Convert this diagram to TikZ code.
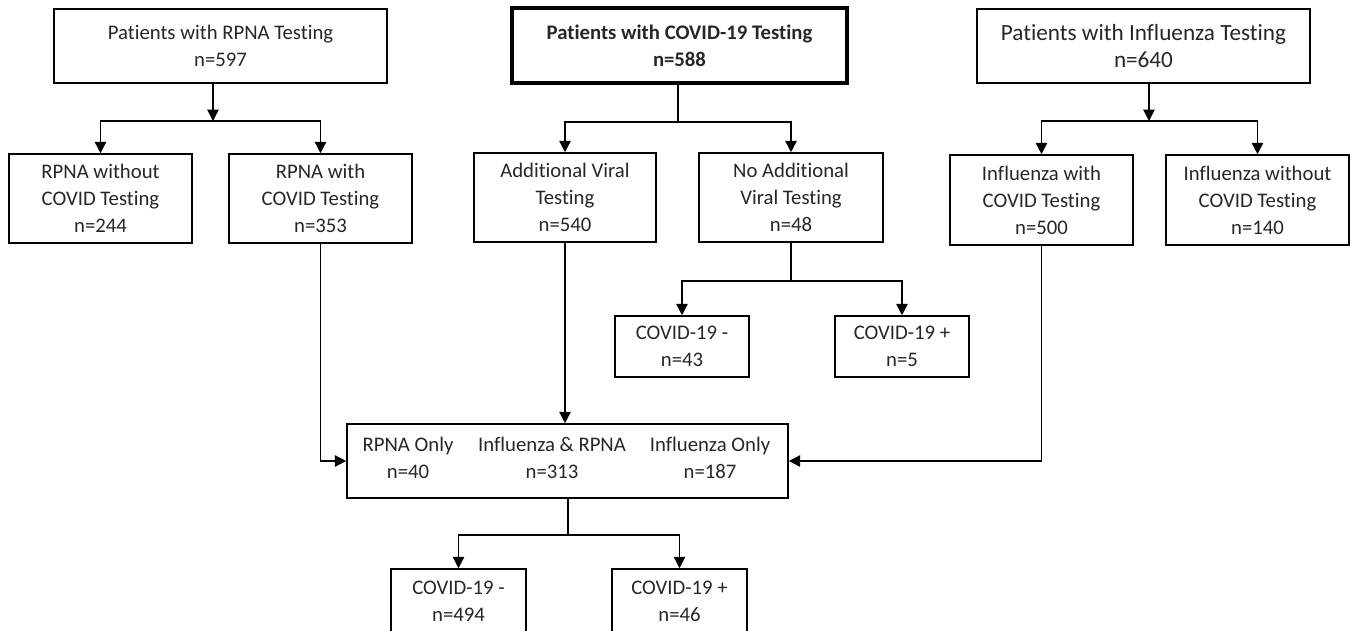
\documentclass[tikz,border=0pt]{standalone}
\usepackage{fontspec}
\setmainfont{Carlito}[Ligatures=NoCommon]
\usetikzlibrary{arrows.meta,calc}
\begin{document}
\begin{tikzpicture}[x=0.02cm,y=-0.02cm,
  box/.style={draw=black,line width=0.9pt,align=center,inner sep=0pt,
    font=\fontsize{11.8}{15.3}\selectfont,text=black!85},
  sz/.style 2 args={minimum width=#1*0.02cm,minimum height=#2*0.02cm},
  lbl/.style={align=center,inner sep=0pt,font=\fontsize{11.8}{15.3}\selectfont,text=black!85},
  conn/.style={line width=0.85pt},
  arr/.style={conn,-{Triangle[length=6.5pt,width=6.5pt]}},
  darr/.style={conn,{Triangle[length=6.5pt,width=6.5pt]}-{Triangle[length=6.5pt,width=6.5pt]}},
]
\useasboundingbox (0,0) rectangle (1350,630);
\clip (0,0) rectangle (1350,630);

% top row
\node[box,sz={333}{74}] (rpna) at (220.5,46) {Patients with RPNA Testing\\n=597};
\node[box,sz={335}{75},line width=1.9pt,font=\fontsize{11.8}{15.3}\selectfont\bfseries] (covid) at (679.5,45.5) {Patients with COVID-19 Testing\\n=588};
\node[box,sz={333}{74},font=\fontsize{13.2}{15.8}\selectfont] (flu) at (1143.5,46) {Patients with Influenza Testing\\n=640};

% second row
\node[box,sz={183}{89}] (rpnano) at (100.5,198.5) {RPNA without\\COVID Testing\\n=244};
\node[box,sz={183}{89}] (rpnayes) at (320.5,198.5) {RPNA with\\COVID Testing\\n=353};
\node[box,sz={182}{89}] (addv) at (565,197.5) {Additional Viral\\Testing\\n=540};
\node[box,sz={184}{89}] (noadd) at (791,197.5) {No Additional\\Viral Testing\\n=48};
\node[box,sz={183}{90}] (fluyes) at (1041.5,200) {Influenza with\\COVID Testing\\n=500};
\node[box,sz={183}{90}] (fluno) at (1257.5,200) {Influenza without\\COVID Testing\\n=140};

% third row
\node[box,sz={134}{61}] (neg1) at (682,346.5) {COVID-19 -\\n=43};
\node[box,sz={134}{61}] (pos1) at (902,346.5) {COVID-19 +\\n=5};

% combined box
\node[box,sz={441}{74}] (combo) at (567.5,461) {};
\node[lbl] (c1) at ($(combo.center)+(-159.5,-3.5)$) {RPNA Only\\n=40};
\node[lbl] (c2) at ($(combo.center)+(-15.5,-3.5)$) {Influenza \& RPNA\\n=313};
\node[lbl] (c3) at ($(combo.center)+(142.5,-3.5)$) {Influenza Only\\n=187};

% bottom row
\node[box,sz={135}{64}] (neg2) at (458.5,601) {COVID-19 -\\n=494};
\node[box,sz={135}{64}] (pos2) at (679.5,601) {COVID-19 +\\n=46};

% junctions
\coordinate (j1) at (213,121);
\coordinate (j2) at (678,122);
\coordinate (j3) at (1149,121);
\coordinate (j4) at (791,281);
\coordinate (j5) at (568,535);

% connectors
\draw[arr] (rpna.south -| j1) -- (j1);
\draw[darr] (rpnano.north) |- (j1) -| (rpnayes.north);
\draw[conn] (covid.south -| j2) -- (j2);
\draw[darr] (addv.north) |- (j2) -| (noadd.north);
\draw[arr] (flu.south -| j3) -- (j3);
\draw[darr] (fluyes.north) |- (j3) -| (fluno.north);
\draw[conn] (noadd.south) -- (j4);
\draw[darr] (neg1.north) |- (j4) -| (pos1.north);
\draw[arr] (rpnayes.south) |- (combo.west);
\draw[arr] (fluyes.south) |- (combo.east);
\draw[arr] (addv.south) -- (addv.south |- combo.north);
\draw[conn] (combo.south -| j5) -- (j5);
\draw[darr] (neg2.north) |- (j5) -| (pos2.north);
\end{tikzpicture}
\end{document}
